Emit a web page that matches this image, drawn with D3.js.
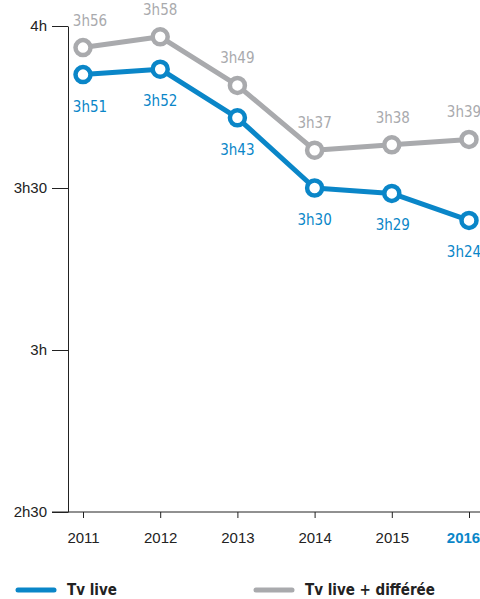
<!DOCTYPE html>
<html>
<head>
<meta charset="utf-8">
<script src="https://cdn.jsdelivr.net/npm/d3@7"></script>
<style>
  body { margin: 0; background: #fff; }
  svg { display: block; font-family: "DejaVu Sans Condensed", "DejaVu Sans", sans-serif; font-stretch: condensed; }
</style>
</head>
<body>
<svg></svg>
<script>
const width = 480;
const height = 599;

const years = ['2011', '2012', '2013', '2014', '2015', '2016'];
// minutes per day
const tvLive = [231, 232, 223, 210, 209, 204];
const tvLiveDiff = [236, 238, 229, 217, 218, 219];
const yTicks = [150, 180, 210, 240];
const yTickLabels = ['2h30', '3h', '3h30', '4h'];

const blue = '#0a86c8';
const grey = '#a9aaad';
const fontSize = '15px';

const fmt = m => Math.floor(m / 60) + 'h' + String(m % 60).padStart(2, '0');

const svg = d3.select('svg')
    .attr('width', width)
    .attr('height', height);

const xScale = d3.scalePoint()
    .domain(years)
    .range([83, 469]);

const yScale = d3.scaleLinear()
    .domain([150, 240])
    .range([512, 26]);

const yAxis = d3.axisLeft(yScale)
    .tickValues(yTicks)
    .tickFormat((d, i) => yTickLabels[i])
    .tickSize(16)
    .tickSizeOuter(0)
    .tickPadding(5);

const gy = svg.append('g')
    .attr('transform', 'translate(68,0)')
    .call(yAxis);
gy.selectAll('text').style('font-size', fontSize).attr('fill', '#222');
gy.selectAll('line').attr('stroke', '#222');
gy.select('.domain').attr('stroke', '#222');

const xAxis = d3.axisBottom(xScale)
    .tickSize(6)
    .tickSizeOuter(0)
    .tickPadding(14);

const gx = svg.append('g')
    .attr('transform', 'translate(0,512)')
    .call(xAxis);
gx.select('.domain').remove();
gx.append('line')
    .attr('x1', 52).attr('x2', width)
    .attr('stroke', '#222');
gx.selectAll('line').attr('stroke', '#222');
gx.selectAll('text')
    .style('font-size', fontSize)
    .attr('dx', d => d === '2016' ? -6 : 0)
    .attr('fill', d => d === '2016' ? blue : '#222')
    .style('font-weight', d => d === '2016' ? 'bold' : 'normal');

const line = d3.line()
    .x((d, i) => xScale(years[i]))
    .y(d => yScale(d));

// small nudges so labels sit like the original
const labelShift = [7, 0, 0, 0, 1, -5];

function drawSeries(values, color, labelDy) {
    svg.append('path')
        .datum(values)
        .attr('d', line)
        .attr('fill', 'none')
        .attr('stroke', color)
        .attr('stroke-width', 5)
        .attr('stroke-linejoin', 'round');

    svg.append('g')
        .selectAll('circle')
        .data(values)
        .enter()
        .append('circle')
        .attr('cx', (d, i) => xScale(years[i]))
        .attr('cy', d => yScale(d))
        .attr('r', 7.5)
        .attr('fill', '#fff')
        .attr('stroke', color)
        .attr('stroke-width', 4.5);

    svg.append('g')
        .selectAll('text')
        .data(values)
        .enter()
        .append('text')
        .attr('x', (d, i) => xScale(years[i]) + labelShift[i])
        .attr('y', d => yScale(d) + labelDy)
        .style('text-anchor', 'middle')
        .style('font-size', fontSize)
        .attr('fill', color)
        .text(d => fmt(d));
}

drawSeries(tvLiveDiff, grey, -22);
drawSeries(tvLive, blue, 37);

const legend = [
    { label: 'Tv live', color: blue, x: 18 },
    { label: 'Tv live + différée', color: grey, x: 256 }
];

const lg = svg.append('g')
    .selectAll('g')
    .data(legend)
    .enter()
    .append('g')
    .attr('transform', d => 'translate(' + d.x + ',590)');

lg.append('line')
    .attr('x1', 0).attr('x2', 36)
    .attr('stroke', d => d.color)
    .attr('stroke-width', 5)
    .attr('stroke-linecap', 'round');

lg.append('text')
    .attr('x', 49)
    .attr('y', 5)
    .style('font-size', fontSize)
    .style('font-weight', 'bold')
    .attr('fill', '#222')
    .text(d => d.label);
</script>
</body>
</html>
